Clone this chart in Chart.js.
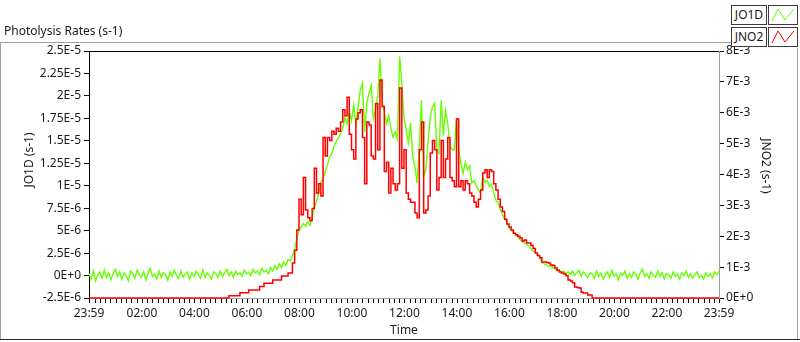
<!DOCTYPE html>
<html lang="en">
<head>
<meta charset="UTF-8">
<title>Photolysis Rates</title>
<script src="https://cdn.jsdelivr.net/npm/chart.js"></script>
<style>
    body { margin: 0; background: #fff; font-family: "Noto Sans", sans-serif; }
    .wrap { position: relative; width: 800px; height: 342px; overflow: hidden; }
    #chart { position: absolute; left: 0; top: 0; }
    .title { position: absolute; left: 4px; top: 22px; font-size: 12px; color: #1a1a1a; white-space: nowrap; }
    .leg-name { position: absolute; left: 731px; width: 34px; height: 18px; border: 1px solid #3c3c3c; background: #fff;
                font-size: 12px; line-height: 18px; text-align: center; color: #1a1a1a; }
    .leg-icon { position: absolute; left: 768px; width: 28px; height: 18px; border: 1px solid #3c3c3c; background: #fff; }
    .leg-icon svg { display: block; }
</style>
</head>
<body>
<div class="wrap">
    <canvas id="chart" width="800" height="342"></canvas>
    <div class="title">Photolysis Rates (s-1)</div>
    <div class="leg-name" style="top:5px">JO1D</div>
    <div class="leg-icon" style="top:5px"><svg width="28" height="18"><polyline points="3,15 9,3 16,14 25,3" fill="none" stroke="#66ff00" stroke-width="1"/></svg></div>
    <div class="leg-name" style="top:27px">JNO2</div>
    <div class="leg-icon" style="top:27px"><svg width="28" height="18"><polyline points="3,15 9,3 16,14 25,3" fill="none" stroke="#ff0000" stroke-width="1"/></svg></div>
</div>

<script>
// minutes after 23:59 (one sample every 5 min)
const minutes = [
    0, 5, 10, 15, 20, 25, 30, 35, 40, 45, 50, 55,
    60, 65, 70, 75, 80, 85, 90, 95, 100, 105, 110, 115,
    120, 125, 130, 135, 140, 145, 150, 155, 160, 165, 170, 175,
    180, 185, 190, 195, 200, 205, 210, 215, 220, 225, 230, 235,
    240, 245, 250, 255, 260, 265, 270, 275, 280, 285, 290, 295,
    300, 305, 310, 315, 320, 325, 330, 335, 340, 345, 350, 355,
    360, 365, 370, 375, 380, 385, 390, 395, 400, 405, 410, 415,
    420, 425, 430, 435, 440, 445, 450, 455, 460, 465, 470, 475,
    480, 485, 490, 495, 500, 505, 510, 515, 520, 525, 530, 535,
    540, 545, 550, 555, 560, 565, 570, 575, 580, 585, 590, 595,
    600, 605, 610, 615, 620, 625, 630, 635, 640, 645, 650, 655,
    660, 665, 670, 675, 680, 685, 690, 695, 700, 705, 710, 715,
    720, 725, 730, 735, 740, 745, 750, 755, 760, 765, 770, 775,
    780, 785, 790, 795, 800, 805, 810, 815, 820, 825, 830, 835,
    840, 845, 850, 855, 860, 865, 870, 875, 880, 885, 890, 895,
    900, 905, 910, 915, 920, 925, 930, 935, 940, 945, 950, 955,
    960, 965, 970, 975, 980, 985, 990, 995, 1000, 1005, 1010, 1015,
    1020, 1025, 1030, 1035, 1040, 1045, 1050, 1055, 1060, 1065, 1070, 1075,
    1080, 1085, 1090, 1095, 1100, 1105, 1110, 1115, 1120, 1125, 1130, 1135,
    1140, 1145, 1150, 1155, 1160, 1165, 1170, 1175, 1180, 1185, 1190, 1195,
    1200, 1205, 1210, 1215, 1220, 1225, 1230, 1235, 1240, 1245, 1250, 1255,
    1260, 1265, 1270, 1275, 1280, 1285, 1290, 1295, 1300, 1305, 1310, 1315,
    1320, 1325, 1330, 1335, 1340, 1345, 1350, 1355, 1360, 1365, 1370, 1375,
    1380, 1385, 1390, 1395, 1400, 1405, 1410, 1415, 1420, 1425, 1430, 1435,
    1440
];

// JO1D in units of 1E-6 s-1
const jo1dE6 = [
    0.2, -0.4, 0.5, -0.6, 0.1, 0.4, -0.3, 0.6, -0.2, 0.3,
    -0.5, 0.2, 0.7, -0.1, 0.4, -0.4, 0.3, 0.0, -0.6, 0.5,
    0.2, -0.3, 0.6, 0.1, -0.2, 0.4, -0.5, 0.3, 0.8, -0.1,
    0.2, -0.4, 0.5, -0.2, 0.3, 0.1, -0.5, 0.4, -0.1, 0.6,
    0.0, -0.3, 0.5, -0.2, 0.2, 0.4, -0.4, 0.3, -0.1, 0.5,
    0.1, -0.3, 0.6, -0.2, 0.3, 0.0, -0.4, 0.4, 0.2, -0.2,
    0.5, -0.1, 0.3, 0.7, 0.0, 0.4, -0.2, 0.5, 0.1, 0.3,
    -0.1, 0.6, 0.2, 0.4, 0.0, 0.7, 0.3, 0.5, 0.1, 0.8,
    0.4, 0.6, 0.2, 0.9, 0.5, 1.1, 0.7, 1.3, 0.9, 1.5,
    1.1, 1.8, 1.6, 2.2, 2.9, 4.2, 5.0, 5.4, 5.8, 5.5,
    6.0, 5.6, 6.4, 7.6, 8.2, 9.2, 10.4, 10.8, 11.6, 12.3,
    13.2, 13.6, 14.4, 14.9, 15.4, 15.8, 16.4, 17.6, 16.9, 18.3,
    17.2, 19.0, 16.8, 18.7, 20.6, 21.4, 16.0, 19.2, 20.3, 21.2,
    17.5, 18.4, 20.0, 24.2, 19.5, 18.2, 16.9, 17.8, 16.4, 15.4,
    16.0, 15.2, 24.4, 21.4, 17.5, 16.2, 14.8, 17.0, 13.2, 12.1,
    10.3, 14.5, 19.5, 11.0, 11.8, 14.8, 17.6, 18.8, 19.2, 14.0,
    13.6, 19.5, 15.6, 18.4, 16.9, 14.5, 14.0, 14.0, 17.6, 14.0,
    12.5, 11.4, 12.6, 11.8, 12.2, 10.3, 10.6, 10.0, 9.5, 9.2,
    11.0, 10.4, 10.6, 9.9, 10.2, 9.2, 8.4, 8.1, 7.4, 6.8,
    6.3, 5.9, 5.4, 5.0, 4.9, 4.5, 4.3, 4.0, 3.8, 3.6,
    3.5, 3.3, 3.0, 2.7, 2.6, 2.4, 2.1, 1.5, 1.3, 1.2,
    1.0, 1.1, 0.9, 0.7, 0.5, 0.6, 0.3, 0.5, 0.2, 0.4,
    0.1, 0.5, 0.0, 0.3, 0.6, -0.1, 0.4, 0.1, -0.2, 0.3,
    0.2, -0.3, 0.5, -0.1, 0.3, -0.4, 0.1, 0.4, -0.2, 0.6,
    -0.1, 0.2, -0.5, 0.3, 0.0, 0.5, -0.3, 0.2, -0.2, 0.4,
    0.1, -0.4, 0.3, 0.7, -0.1, 0.2, -0.3, 0.4, 0.0, -0.2,
    0.5, -0.1, 0.3, -0.4, 0.2, 0.1, -0.3, 0.4, -0.1, 0.2,
    -0.4, 0.3, 0.0, 0.5, -0.2, 0.2, -0.3, 0.1, 0.4, -0.2,
    0.0, -0.4, 0.3, -0.1, 0.2, -0.3, 0.4, 0.1, 0.5
];

// JNO2 in units of 1E-3 s-1
const jno2E3 = [
    0, 0, 0, 0, 0, 0, 0, 0, 0, 0,
    0, 0, 0, 0, 0, 0, 0, 0, 0, 0,
    0, 0, 0, 0, 0, 0, 0, 0, 0, 0,
    0, 0, 0, 0, 0, 0, 0, 0, 0, 0,
    0, 0, 0, 0, 0, 0, 0, 0, 0, 0,
    0, 0, 0, 0, 0, 0, 0, 0, 0, 0,
    0, 0, 0, 0, 0.07, 0.07, 0.07, 0.07, 0.07, 0.17,
    0.17, 0.17, 0.17, 0.26, 0.26, 0.26, 0.26, 0.26, 0.37, 0.37,
    0.48, 0.48, 0.48, 0.48, 0.58, 0.58, 0.58, 0.58, 0.71, 0.71,
    0.71, 0.81, 0.81, 1.13, 1.55, 2.2, 3.2, 2.7, 3.9, 2.85,
    2.6, 2.5, 2.9, 4.2, 3.4, 3.7, 3.3, 5.2, 4.6, 5.2,
    5.1, 5.4, 5.3, 5.5, 5.4, 5.7, 6.1, 5.9, 6.5, 5.3,
    4.8, 4.5, 5.8, 6.0, 6.1, 5.2, 3.7, 5.7, 5.6, 4.6,
    4.5, 6.3, 4.8, 7.06, 6.2, 4.1, 4.4, 3.4, 4.2, 3.7,
    3.5, 3.7, 6.8, 4.2, 4.8, 3.4, 3.2, 3.1, 3.1, 2.75,
    2.6, 4.8, 5.7, 2.75, 2.85, 3.3, 4.7, 5.1, 4.8, 3.5,
    3.9, 5.1, 3.9, 4.5, 5.2, 3.9, 3.8, 3.6, 5.8, 3.6,
    3.8, 3.5, 3.8, 3.7, 3.4, 3.3, 3.1, 2.95, 3.2, 3.5,
    4.05, 4.15, 3.9, 4.15, 4.1, 3.7, 3.5, 3.2, 2.95, 2.8,
    2.55, 2.4, 2.3, 2.2, 2.1, 2.05, 2.0, 1.94, 1.85, 1.88,
    1.78, 1.78, 1.7, 1.6, 1.46, 1.38, 1.3, 1.17, 1.17, 1.15,
    1.13, 1.07, 1.05, 0.97, 0.9, 0.84, 0.81, 0.78, 0.72, 0.58,
    0.55, 0.49, 0.36, 0.34, 0.32, 0.19, 0.16, 0.16, 0.1, 0.1,
    0, 0, 0, 0, 0, 0, 0, 0, 0, 0,
    0, 0, 0, 0, 0, 0, 0, 0, 0, 0,
    0, 0, 0, 0, 0, 0, 0, 0, 0, 0,
    0, 0, 0, 0, 0, 0, 0, 0, 0, 0,
    0, 0, 0, 0, 0, 0, 0, 0, 0, 0,
    0, 0, 0, 0, 0, 0, 0, 0, 0
];

// axis ticks
const timeTickValues = [0, 121, 241, 361, 481, 601, 721, 841, 961, 1081, 1201, 1321, 1440];
const timeTickLabels = ['23:59', '02:00', '04:00', '06:00', '08:00', '10:00', '12:00', '14:00', '16:00', '18:00', '20:00', '22:00', '23:59'];
const jo1dTickValues = [-2.5, 0, 2.5, 5, 7.5, 10, 12.5, 15, 17.5, 20, 22.5, 25];
const jo1dTickLabels = ['-2.5E-6', '0E+0', '2.5E-6', '5E-6', '7.5E-6', '1E-5', '1.25E-5', '1.5E-5', '1.75E-5', '2E-5', '2.25E-5', '2.5E-5'];
const jno2TickValues = [0, 1, 2, 3, 4, 5, 6, 7, 8];
const jno2TickLabels = ['0E+0', '1E-3', '2E-3', '3E-3', '4E-3', '5E-3', '6E-3', '7E-3', '8E-3'];

const textColor = '#1a1a1a';
const tickFont = { family: '"Noto Sans", sans-serif', size: 12 };

// frame, top border, minor time ticks and axis titles
const framePlugin = {
    id: 'frame',
    afterDraw(chart) {
        const ctx = chart.ctx;
        const area = chart.chartArea;
        const xs = chart.scales.x;
        ctx.save();
        ctx.lineWidth = 1;

        ctx.strokeStyle = '#a0a0a0';
        ctx.beginPath();
        ctx.moveTo(0, 42.5); ctx.lineTo(731, 42.5);
        ctx.moveTo(0.5, 42); ctx.lineTo(0.5, 340);
        ctx.moveTo(797.5, 48); ctx.lineTo(797.5, 340);
        ctx.stroke();

        ctx.strokeStyle = '#2a2a2a';
        ctx.beginPath();
        ctx.moveTo(0, 339.5); ctx.lineTo(800, 339.5);
        ctx.stroke();

        ctx.strokeStyle = '#000';
        ctx.beginPath();
        ctx.moveTo(area.left - 1, area.top + 0.5); ctx.lineTo(area.right, area.top + 0.5);
        ctx.stroke();

        // time ticks: every 12 min plus the labelled ones
        ctx.beginPath();
        const marks = timeTickValues.slice();
        for (let m = 1; m < 1440; m += 12) marks.push(m);
        marks.forEach(m => {
            const px = Math.round(xs.getPixelForValue(m)) + 0.5;
            ctx.moveTo(px, area.bottom + 1);
            ctx.lineTo(px, area.bottom + 5);
        });
        ctx.stroke();

        ctx.fillStyle = textColor;
        ctx.font = '12px "Noto Sans", sans-serif';
        ctx.textAlign = 'center';
        ctx.textBaseline = 'middle';
        ctx.save();
        ctx.translate(30, 160);
        ctx.rotate(-Math.PI / 2);
        ctx.fillText('JO1D (s-1)', 0, 0);
        ctx.restore();
        ctx.save();
        ctx.translate(765, 166);
        ctx.rotate(Math.PI / 2);
        ctx.fillText('JNO2 (s-1)', 0, 0);
        ctx.restore();

        ctx.restore();
    }
};

new Chart(document.getElementById('chart'), {
    type: 'line',
    data: {
        datasets: [
            {
                label: 'JNO2',
                data: minutes.map((m, i) => ({ x: m, y: jno2E3[i] })),
                yAxisID: 'y2',
                borderColor: '#ff0000',
                borderWidth: 1.5,
                pointRadius: 0,
                stepped: true,
                clip: false,
                order: 1
            },
            {
                label: 'JO1D',
                data: minutes.map((m, i) => ({ x: m, y: jo1dE6[i] })),
                yAxisID: 'y',
                borderColor: '#66ff00',
                borderWidth: 1.4,
                pointRadius: 0,
                tension: 0,
                clip: false,
                order: 2
            }
        ]
    },
    options: {
        responsive: false,
        animation: false,
        devicePixelRatio: 1,
        layout: { padding: { top: 51, left: 0, right: 0, bottom: 0 } },
        plugins: { legend: { display: false }, tooltip: { enabled: false } },
        scales: {
            x: {
                type: 'linear',
                min: 0,
                max: 1440,
                afterFit: s => { s.height = 44; },
                afterBuildTicks: s => { s.ticks = timeTickValues.map(v => ({ value: v })); },
                ticks: {
                    autoSkip: false, maxRotation: 0, padding: 8, color: textColor, font: tickFont,
                    callback: (v, i) => timeTickLabels[i]
                },
                grid: { drawOnChartArea: false, drawTicks: false },
                border: { color: '#a0a0a0' },
                title: { display: true, text: 'Time', color: textColor, font: tickFont, padding: { top: 0, bottom: 4 } }
            },
            y: {
                position: 'left',
                min: -2.5,
                max: 25,
                afterFit: s => { s.width = 89; },
                afterBuildTicks: s => { s.ticks = jo1dTickValues.map(v => ({ value: v })); },
                ticks: { padding: 3, color: textColor, font: tickFont, callback: (v, i) => jo1dTickLabels[i] },
                grid: { drawOnChartArea: false, tickLength: 5, color: '#000' },
                border: { color: '#000' }
            },
            y2: {
                position: 'right',
                min: 0,
                max: 8,
                afterFit: s => { s.width = 81; },
                afterBuildTicks: s => { s.ticks = jno2TickValues.map(v => ({ value: v })); },
                ticks: { padding: 2, color: textColor, font: tickFont, callback: (v, i) => jno2TickLabels[i] },
                grid: { drawOnChartArea: false, tickLength: 5, color: '#000' },
                border: { color: '#a0a0a0' }
            }
        }
    },
    plugins: [framePlugin]
});
</script>
</body>
</html>
